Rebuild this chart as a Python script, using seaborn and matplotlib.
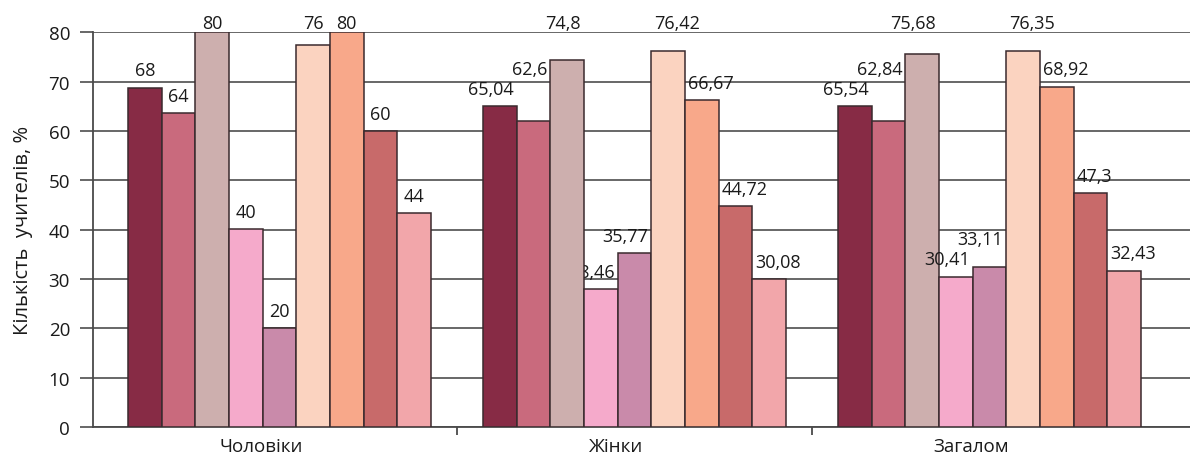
import matplotlib
matplotlib.use("Agg")
import matplotlib.pyplot as plt
from matplotlib.transforms import ScaledTranslation
import seaborn as sns
import pandas as pd

# ---- data ----
groups = ["Чоловіки", "Жінки", "Загалом"]
series = ["s1", "s2", "s3", "s4", "s5", "s6", "s7", "s8", "s9"]
# bar heights as drawn
men = [68.8, 63.6, 80.0, 40.1, 20.0, 77.5, 80.0, 60.0, 43.4]
women = [65.0, 62.1, 74.4, 27.9, 35.3, 76.2, 66.2, 44.7, 29.9]
total = [65.0, 62.1, 75.6, 30.5, 32.4, 76.2, 69.0, 47.4, 31.7]
# printed value labels
men_labels = ["68", "64", "80", "40", "20", "76", "80", "60", "44"]
women_labels = ["65,04", "62,6", "74,8", "28,46", "35,77", "76,42", "66,67", "44,72", "30,08"]
total_labels = ["65,54", "62,84", "75,68", "30,41", "33,11", "76,35", "68,92", "47,3", "32,43"]
y_ticks = [0, 10, 20, 30, 40, 50, 60, 70, 80]
y_label = "Кількість  учителів, %"

colors = ["#872B45", "#C96A7D", "#CDAFAE", "#F5AACB", "#C98AAA",
          "#FBD3C0", "#F8A88A", "#C86A6A", "#F2A6AA"]

values = [men, women, total]
labels = [men_labels, women_labels, total_labels]
labels_behind = [False, True, False]

rows = []
for g, vals in zip(groups, values):
    for s, v in zip(series, vals):
        rows.append({"group": g, "series": s, "value": v})
df = pd.DataFrame(rows)

sns.set_style("white")
plt.rcParams["font.family"] = ["Open Sans", "DejaVu Sans"]

W, H, DPI = 1190, 456, 100
PT = 72.0 / DPI  # points per pixel
fig = plt.figure(figsize=(W / DPI, H / DPI), dpi=DPI)
ax = fig.add_axes([93 / W, (H - 428) / H, (W - 93) / W, (428 - 33.3) / H])

sns.barplot(data=df, x="group", y="value", hue="series", palette=colors,
            order=groups, hue_order=series, width=0.8535, dodge=True,
            edgecolor="#3a2a2e", linewidth=1.1, legend=False, ax=ax,
            saturation=1, zorder=3)

grid_col = "#5c5c5c"
ax.set_xlim(-0.525, 2.565)
ax.set_ylim(0, 80)
ax.set_yticks(y_ticks)
ax.yaxis.grid(True, color=grid_col, linewidth=1.3, zorder=0)
ax.set_axisbelow(True)
ax.tick_params(axis="y", length=13 * PT, width=1.3, color=grid_col,
               pad=10 * PT, labelsize=13.5, labelcolor="#1a1a1a", left=True)

for sp in ["top", "right"]:
    ax.spines[sp].set_visible(False)
ax.spines["left"].set_color("#4a4a4a")
ax.spines["left"].set_linewidth(1.3)
ax.spines["bottom"].set_color("#4a4a4a")
ax.spines["bottom"].set_linewidth(1.3)

ax.set_xticks([0, 1, 2])
ax.set_xticklabels(groups)
ax.set_xticks([0.5, 1.5], minor=True)
ax.tick_params(axis="x", which="major", length=0, pad=7, labelsize=13.5,
               labelcolor="#1a1a1a")
ax.tick_params(axis="x", which="minor", length=8 * PT, width=1.3,
               color="#4a4a4a", bottom=True)
off = ScaledTranslation(-18 / DPI, 0, fig.dpi_scale_trans)
for lbl in ax.get_xticklabels():
    lbl.set_transform(lbl.get_transform() + off)

ax.set_xlabel("")
ax.set_ylabel(y_label, fontsize=14.5, color="#1a1a1a", labelpad=11)

# value labels
fig.canvas.draw()
renderer = fig.canvas.get_renderer()
px = 1.0 / DPI
for i in range(len(groups)):
    prev = None
    for j, cont in enumerate(ax.containers):
        bar = cont[i]
        txt = labels[i][j]
        h = bar.get_height()
        x0 = bar.get_x()
        w = bar.get_width()
        ytop = 81.9 if h > 74 else h + 3.5
        if len(txt) <= 2:
            xt, ha, dx = x0 + w / 2, "center", 0
        elif j < 5:
            xt, ha, dx = x0 + w, "right", -3
        else:
            xt, ha, dx = x0, "left", 3
        tr = ax.transData + ScaledTranslation(dx * px, 0, fig.dpi_scale_trans)
        t = ax.text(xt, ytop, txt, ha=ha, va="center", fontsize=13,
                    color="#1a1a1a", transform=tr,
                    zorder=2 if labels_behind[i] else 5)
        bb = t.get_window_extent(renderer)
        if prev is not None:
            pbb = prev.get_window_extent(renderer)
            if bb.x0 < pbb.x1 and bb.x1 > pbb.x0 and bb.y0 < pbb.y1 and bb.y1 > pbb.y0:
                # lift the label above its neighbour
                dy_px = pbb.y1 - bb.y0 + 2
                y_disp = ax.transData.transform((xt, ytop))[1] + dy_px
                new_y = ax.transData.inverted().transform((0, y_disp))[1]
                t.set_y(new_y)
        prev = t

fig.savefig("out.png", dpi=DPI)
